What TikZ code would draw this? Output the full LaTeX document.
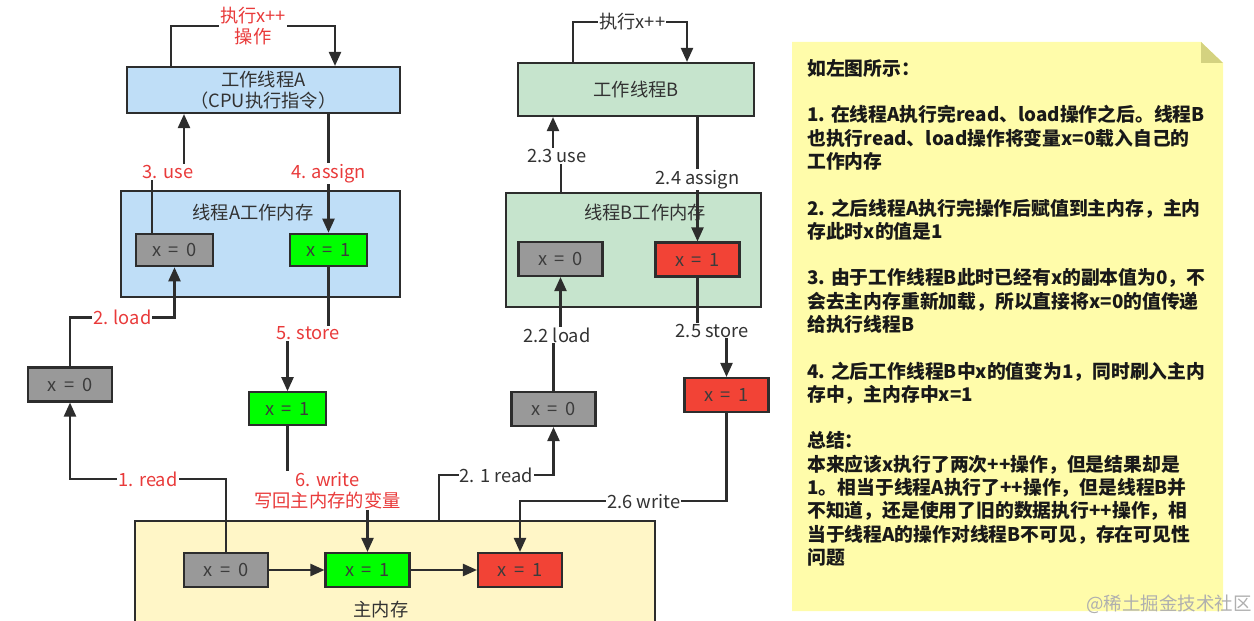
\documentclass[tikz,border=0pt]{standalone}
\usepackage{fontspec}
\setmainfont{Noto Sans CJK SC}
\usetikzlibrary{arrows.meta,calc}
\definecolor{lnc}{RGB}{45,45,45}
\definecolor{thrafill}{RGB}{191,222,247}
\definecolor{thrbfill}{RGB}{198,228,205}
\definecolor{mainfill}{RGB}{255,246,199}
\definecolor{zerofill}{RGB}{153,153,153}
\definecolor{onefill}{RGB}{0,255,0}
\definecolor{badfill}{RGB}{242,67,54}
\definecolor{valtxt}{RGB}{60,60,60}
\definecolor{lblred}{RGB}{233,58,58}
\definecolor{lbltxt}{RGB}{50,50,50}
\definecolor{notefill}{RGB}{255,252,170}
\definecolor{foldfill}{RGB}{212,210,128}
\definecolor{wmark}{RGB}{175,175,175}
\tikzset{
  conn/.style={draw=lnc, line width=1.3pt},
  arr/.style={conn, -{Triangle[length=2.8mm,width=2.4mm]}},
  panel/.style={draw=lnc, line width=1.2pt, inner sep=0pt, text=lbltxt, align=center},
  valbox/.style={draw=lnc, line width=1.2pt, minimum width=16.8mm, minimum height=6.8mm,
                 inner sep=0pt, text=valtxt,
                 font={\fontsize{10.4}{12}\selectfont\spaceskip=0.42em\relax}},
  zerobox/.style={valbox, fill=zerofill},
  onebox/.style={valbox, fill=onefill},
  badbox/.style={valbox, fill=badfill},
  redlbl/.style={fill=white, text=lblred, inner sep=0.6pt},
  blklbl/.style={fill=white, text=lbltxt, inner sep=0.6pt},
}

\begin{document}
\begin{tikzpicture}[x=0.02cm, y=-0.02cm, font=\fontsize{10.4}{12}\selectfont,
    narrow/.style={minimum width=15.4mm, minimum height=6.5mm},
    ttl/.style={text=lbltxt}]
  \useasboundingbox (0,0) rectangle (1254,621);
  \clip (0,0) rectangle (1254,621);

  % thread A side
  \node[panel, fill=thrafill, minimum width=54.6mm, minimum height=9.2mm] (thrA) at (263.5,90)
    {工作线程A\\（CPU执行指令）};
  \node[panel, fill=thrafill, minimum width=55.8mm, minimum height=21.2mm] (aMem) at (260.5,244) {};
  \node[ttl] (aMemT) at (253,213) {线程A工作内存};
  \node[zerobox, narrow] (aX0) at (174.5,250) {x = 0};
  \node[onebox, narrow] (aX1) at (328.5,250) {x = 1};
  \node[zerobox] (lX0) at (70,384.5) {x = 0};
  \node[onebox, narrow] (mG) at (287.5,408.5) {x = 1};

  % thread B side
  \node[panel, fill=thrbfill, minimum width=47.2mm, minimum height=10.6mm] (thrB) at (636,89.5) {工作线程B};
  \node[panel, fill=thrbfill, minimum width=51mm, minimum height=22.8mm] (bMem) at (633.5,250) {};
  \node[ttl] (bMemT) at (645,213) {线程B工作内存};
  \node[zerobox] (bmX0) at (560.5,259) {x = 0};
  \node[badbox] (bmR) at (697.5,259.5) {x = 1};
  \node[zerobox] (bX0) at (553.5,409) {x = 0};
  \node[badbox] (bR) at (726.5,395) {x = 1};

  % main memory
  \node[panel, fill=mainfill, minimum width=104mm, minimum height=39.8mm] (mainM) at (395,620.5) {};
  \node[ttl] (mainT) at (381,610) {主内存};
  \node[zerobox] (mmX0) at (226,570) {x = 0};
  \node[onebox] (mmG) at (367.5,570) {x = 1};
  \node[badbox] (mmR) at (520,570) {x = 1};

  % thread A flow
  \draw[arr] ($(thrA.north)+(-92.5,0)$) -- ++(0,-40) -|
    node[redlbl, pos=0.25, align=center]{执行x++\\操作} ($(thrA.north)+(71.5,0)$);
  \draw[arr] (mmX0.north) -- ++(0,-73) -| node[redlbl, pos=0.25]{1. read} (lX0.south);
  \draw[arr] (lX0.north) -- ++(0,-49) -| node[redlbl, pos=0.25]{2. load} (aX0.south);
  \draw[arr] ($(aX0.north)+(-22.5,0)$) -- ++(0,-61) -|
    node[redlbl, pos=0.25]{3. use} ($(thrA.south)+(-79.5,0)$);
  \draw[arr] (aX1.north |- thrA.south) -- node[redlbl]{4. assign} (aX1.north);
  \draw[arr] (aX1.south) -- ++(0,66) -| node[redlbl, pos=0.25]{5. store} (mG.north);
  \draw[arr] (mG.south) -- ++(0,65) -|
    node[redlbl, pos=0.25, align=center]{6. write\\写回主内存的变量} (mmG.north);

  % thread B flow
  \draw[arr] ($(thrB.north)+(-63,0)$) -- ++(0,-40) -|
    node[blklbl, pos=0.26]{执行x++} ($(thrB.north)+(51,0)$);
  \draw[arr] ($(mainM.north)+(44,0)$) -- ++(0,-45) -| node[blklbl, pos=0.25]{2. 1 read} (bX0.south);
  \draw[arr] (bX0.north) -- ++(0,-56) -| node[blklbl, pos=0.25]{2.2 load} (bmX0.south);
  \draw[arr] ($(bMem.north)+(-72.5,0)$) -- ++(0,-36) -|
    node[blklbl, pos=0.25]{2.3 use} ($(thrB.south)+(-83,0)$);
  \draw[arr] (bmR.north |- thrB.south) -- node[blklbl]{2.4 assign} (bmR.north);
  \draw[arr] (bmR.south) -- ++(0,53) -| node[blklbl, pos=0.25]{2.5 store} (bR.north);
  \draw[arr] (bR.south) -- ++(0,88) -| node[blklbl, pos=0.2]{2.6 write} (mmR.north);

  % main memory copies
  \draw[arr] (mmX0) -- (mmG);
  \draw[arr] (mmG) -- (mmR);

  % note
  \fill[notefill] (792,42) -- (1201,42) -- (1223,63) -- (1223,611) -- (792,611) -- cycle;
  \fill[foldfill] (1201,42) -- (1223,63) -- (1201,63) -- cycle;
  \node[anchor=north west, inner sep=0pt, align=left, text=black!90,
        font=\fontsize{10.7}{13.25}\selectfont\bfseries] (noteTxt) at (807,59)
    {如左图所示：\\[13.25pt]
     1. 在线程A执行完read、load操作之后。线程B\\
     也执行read、load操作将变量x=0载入自己的\\
     工作内存\\[13.25pt]
     2. 之后线程A执行完操作后赋值到主内存，主内\\
     存此时x的值是1\\[13.25pt]
     3. 由于工作线程B此时已经有x的副本值为0，不\\
     会去主内存重新加载，所以直接将x=0的值传递\\
     给执行线程B\\[13.25pt]
     4. 之后工作线程B中x的值变为1，同时刷入主内\\
     存中，主内存中x=1\\[13.25pt]
     总结：\\
     本来应该x执行了两次++操作，但是结果却是\\
     1。相当于线程A执行了++操作，但是线程B并\\
     不知道，还是使用了旧的数据执行++操作，相\\
     当于线程A的操作对线程B不可见，存在可见性\\
     问题};
  \node[text=wmark, font=\fontsize{10.5}{12}\selectfont] (wm) at (1169,604) {@稀土掘金技术社区};
\end{tikzpicture}
\end{document}
